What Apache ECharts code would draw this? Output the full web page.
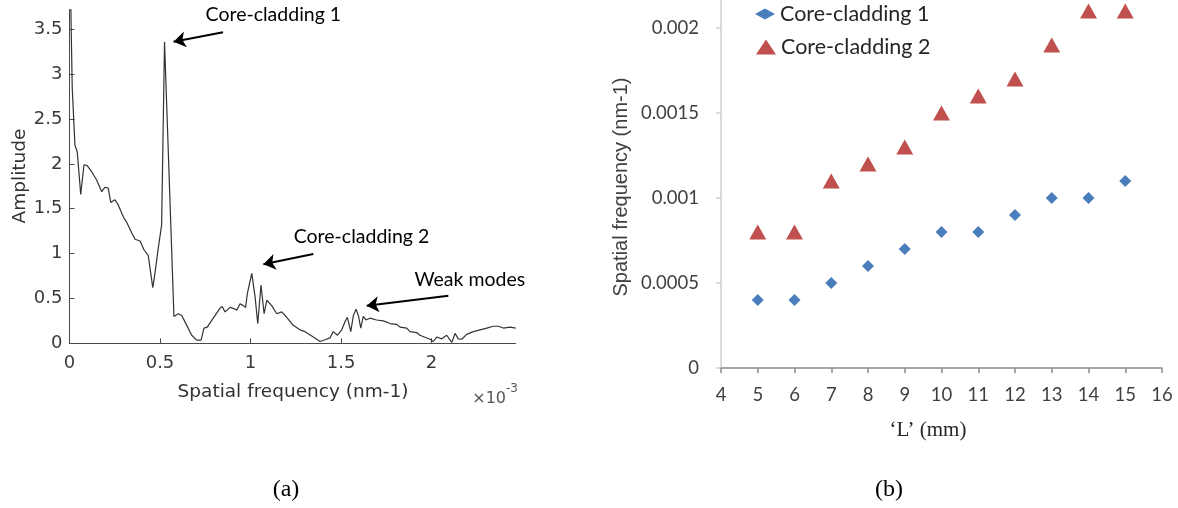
<!DOCTYPE html>
<html>
<head>
<meta charset="utf-8">
<script src="https://cdn.jsdelivr.net/npm/echarts@6/dist/echarts.min.js"></script>
<style>
  html, body { margin: 0; padding: 0; background: #fff; }
  #chart { width: 1178px; height: 508px; }
</style>
</head>
<body>
<div id="chart"></div>
<script>
// ---- (a) amplitude spectrum; frequency in units of 1e-3 nm^-1 ----
const spectrumFreq = [
  0, 0.015, 0.030, 0.043, 0.062, 0.080, 0.098, 0.123, 0.150, 0.178,
  0.196, 0.214, 0.228, 0.251, 0.270, 0.297, 0.316, 0.344, 0.362, 0.390,
  0.412, 0.435, 0.445, 0.460, 0.472, 0.491, 0.509, 0.525, 0.577, 0.601,
  0.620, 0.648, 0.675, 0.703, 0.727, 0.743, 0.761, 0.794, 0.831, 0.844,
  0.859, 0.887, 0.905, 0.924, 0.942, 0.960, 0.973, 0.982, 1.007, 1.025,
  1.040, 1.058, 1.075, 1.090, 1.117, 1.145, 1.172, 1.200, 1.236, 1.273,
  1.301, 1.347, 1.384, 1.412, 1.439, 1.457, 1.480, 1.504, 1.522, 1.535,
  1.554, 1.568, 1.583, 1.597, 1.609, 1.623, 1.638, 1.660, 1.697, 1.734,
  1.771, 1.808, 1.826, 1.863, 1.881, 1.918, 1.936, 1.992, 2.010, 2.029,
  2.056, 2.084, 2.112, 2.130, 2.148, 2.167, 2.194, 2.231, 2.268, 2.305,
  2.341, 2.369, 2.397, 2.434, 2.465
];
const spectrumAmp = [
  4.6, 2.85, 2.21, 2.13, 1.66, 1.99, 1.98, 1.91, 1.82, 1.69,
  1.74, 1.73, 1.57, 1.60, 1.54, 1.41, 1.35, 1.23, 1.16, 1.14,
  1.04, 0.98, 0.96, 0.62, 0.78, 1.07, 1.32, 3.36, 0.30, 0.33,
  0.31, 0.20, 0.09, 0.035, 0.035, 0.17, 0.18, 0.28, 0.39, 0.41,
  0.35, 0.40, 0.39, 0.37, 0.44, 0.42, 0.40, 0.55, 0.78, 0.52,
  0.22, 0.65, 0.33, 0.48, 0.42, 0.33, 0.35, 0.29, 0.20, 0.15,
  0.13, 0.07, 0.02, 0.04, 0.06, 0.13, 0.09, 0.15, 0.24, 0.29,
  0.13, 0.31, 0.38, 0.30, 0.17, 0.30, 0.26, 0.28, 0.26, 0.25,
  0.22, 0.21, 0.18, 0.17, 0.13, 0.12, 0.09, 0.045, 0.02, 0.07,
  0.05, 0.09, 0.01, 0.11, 0.05, 0.045, 0.10, 0.13, 0.15, 0.17,
  0.19, 0.19, 0.17, 0.18, 0.17
];
const freqTicks = [0, 0.5, 1, 1.5, 2];
const ampTicks = [0, 0.5, 1, 1.5, 2, 2.5, 3, 3.5];

// peak call-outs: text anchor, arrow tail and arrow tip in axis units
const peakNotes = [
  { text: 'Core-cladding 1', at: [0.749, 3.66], tail: [0.848, 3.467], tip: [0.575, 3.362] },
  { text: 'Core-cladding 2', at: [1.236, 1.188], tail: [1.347, 0.996], tip: [1.071, 0.881] },
  { text: 'Weak modes',      at: [1.903, 0.713], tail: [2.093, 0.531], tip: [1.642, 0.419] }
];

// ---- (b) peak spatial frequency versus length L ----
const lengthsMm = [5, 6, 7, 8, 9, 10, 11, 12, 13, 14, 15];
const coreCladding1 = [0.0004, 0.0004, 0.0005, 0.0006, 0.0007, 0.0008, 0.0008, 0.0009, 0.0010, 0.0010, 0.0011];
const coreCladding2 = [0.0008, 0.0008, 0.0011, 0.0012, 0.0013, 0.0015, 0.0016, 0.0017, 0.0019, 0.0021, 0.0021];
const lengthTicks = [4, 5, 6, 7, 8, 9, 10, 11, 12, 13, 14, 15, 16];
const freqBTicks = [0, 0.0005, 0.001, 0.0015, 0.002];

const SANS_A = '"DejaVu Sans", sans-serif';
const SANS_B = 'Lato, "Open Sans", sans-serif';
const SERIF = '"Liberation Serif", "DejaVu Serif", serif';

const chart = echarts.init(document.getElementById('chart'), null, { renderer: 'canvas' });

const option = {
  animation: false,
  backgroundColor: '#ffffff',
  grid: [
    { left: 69.5, top: 9.6, width: 446.2, height: 333.7 },
    // the value axis runs up to the top edge of the figure
    { left: 721, top: 0, width: 441, height: 368 }
  ],
  xAxis: [
    {
      gridIndex: 0, type: 'value', min: 0, max: 2.465,
      axisLine: { show: true, onZero: false, lineStyle: { color: '#4a4a4a', width: 1 } },
      axisTick: { show: true, inside: true, length: 5, lineStyle: { color: '#4a4a4a' }, customValues: freqTicks },
      axisLabel: { show: true, margin: 11, color: '#3a3a3a', fontFamily: SANS_A, fontSize: 18, customValues: freqTicks },
      splitLine: { show: false }
    },
    {
      gridIndex: 1, type: 'value', min: 4, max: 16, interval: 1,
      axisLine: { show: true, onZero: false, lineStyle: { color: '#8c8c8c', width: 1.5 } },
      axisTick: { show: true, inside: false, length: 5, lineStyle: { color: '#8c8c8c', width: 1.5 }, customValues: lengthTicks },
      axisLabel: { show: true, margin: 18, color: '#404040', fontFamily: SANS_B, fontSize: 18.5, customValues: lengthTicks },
      splitLine: { show: false }
    }
  ],
  yAxis: [
    {
      gridIndex: 0, type: 'value', min: 0, max: 3.72,
      axisLine: { show: true, onZero: false, lineStyle: { color: '#4a4a4a', width: 1 } },
      axisTick: { show: true, inside: true, length: 5, lineStyle: { color: '#4a4a4a' }, customValues: ampTicks },
      axisLabel: { show: true, margin: 7, color: '#3a3a3a', fontFamily: SANS_A, fontSize: 18, customValues: ampTicks },
      splitLine: { show: false }
    },
    {
      gridIndex: 1, type: 'value', min: 0, max: 0.0021647,
      axisLine: { show: true, onZero: false, lineStyle: { color: '#cfcfcf', width: 1.5 } },
      axisTick: { show: true, inside: false, length: 5, lineStyle: { color: '#cfcfcf', width: 1.5 }, customValues: freqBTicks },
      axisLabel: { show: true, margin: 22, color: '#404040', fontFamily: SANS_B, fontSize: 18.5, customValues: freqBTicks },
      splitLine: { show: false }
    }
  ],
  legend: [
    {
      data: ['Core-cladding 1'], orient: 'vertical', left: 755, top: 3, padding: 0,
      itemWidth: 20, itemHeight: 11, icon: 'diamond',
      textStyle: { fontFamily: SANS_B, fontSize: 21.5, color: '#262626' }
    },
    {
      data: ['Core-cladding 2'], orient: 'vertical', left: 756, top: 36, padding: 0,
      itemWidth: 20, itemHeight: 15, icon: 'triangle',
      textStyle: { fontFamily: SANS_B, fontSize: 21.5, color: '#262626' }
    }
  ],
  series: [
    {
      name: 'Amplitude', type: 'line', xAxisIndex: 0, yAxisIndex: 0,
      data: spectrumFreq.map((f, i) => [f, spectrumAmp[i]]),
      showSymbol: false, symbol: 'none', clip: true,
      lineStyle: { color: '#333333', width: 1.2 },
      markLine: {
        silent: true, animation: false,
        symbol: ['none', 'arrow'], symbolSize: 12,
        lineStyle: { color: '#000000', width: 2, type: 'solid' },
        label: { show: false },
        data: peakNotes.map(n => [{ coord: n.tail }, { coord: n.tip }])
      },
      markPoint: {
        silent: true, animation: false,
        symbol: 'circle', symbolSize: 1,
        itemStyle: { color: 'rgba(0,0,0,0)' },
        label: {
          show: true, position: 'right', distance: 0,
          formatter: p => p.name,
          fontFamily: SANS_B, fontSize: 19.5, color: '#000000'
        },
        data: peakNotes.map(n => ({ name: n.text, coord: n.at }))
      }
    },
    {
      name: 'Core-cladding 1', type: 'scatter', xAxisIndex: 1, yAxisIndex: 1,
      data: lengthsMm.map((l, i) => [l, coreCladding1[i]]),
      symbol: 'diamond', symbolSize: 12, clip: false,
      itemStyle: { color: '#4a7ebb', opacity: 1 }
    },
    {
      name: 'Core-cladding 2', type: 'scatter', xAxisIndex: 1, yAxisIndex: 1,
      data: lengthsMm.map((l, i) => [l, coreCladding2[i]]),
      symbol: 'triangle', symbolSize: [17, 15], clip: false,
      itemStyle: { color: '#c0504d', opacity: 1 }
    }
  ],
  graphic: [
    { type: 'text', x: 20, y: 176, rotation: Math.PI / 2,
      style: { text: 'Amplitude', fontFamily: SANS_A, fontSize: 18.5, fill: '#333333', align: 'center', verticalAlign: 'middle' } },
    { type: 'text', x: 293, y: 392,
      style: { text: 'Spatial frequency (nm-1)', fontFamily: SANS_A, fontSize: 18.5, fill: '#333333', align: 'center', verticalAlign: 'middle' } },
    { type: 'text', x: 506, y: 399,
      style: { text: '\u00d710', fontFamily: SANS_A, fontSize: 16, fill: '#555555', align: 'right', verticalAlign: 'middle' } },
    { type: 'text', x: 506, y: 389,
      style: { text: '-3', fontFamily: SANS_A, fontSize: 12, fill: '#555555', align: 'left', verticalAlign: 'middle' } },
    { type: 'text', x: 621, y: 187, rotation: Math.PI / 2,
      style: { text: 'Spatial frequency (nm-1)', fontFamily: '"Liberation Sans", Arial, sans-serif', fontSize: 20, fill: '#404040', align: 'center', verticalAlign: 'middle' } },
    { type: 'text', x: 928, y: 430,
      style: { text: '\u2018L\u2019 (mm)', fontFamily: SERIF, fontSize: 21, fill: '#262626', align: 'center', verticalAlign: 'middle' } },
    { type: 'text', x: 286, y: 490,
      style: { text: '(a)', fontFamily: SERIF, fontSize: 24, fill: '#000000', align: 'center', verticalAlign: 'middle' } },
    { type: 'text', x: 889, y: 490,
      style: { text: '(b)', fontFamily: SERIF, fontSize: 24, fill: '#000000', align: 'center', verticalAlign: 'middle' } }
  ]
};

chart.setOption(option);
</script>
</body>
</html>
